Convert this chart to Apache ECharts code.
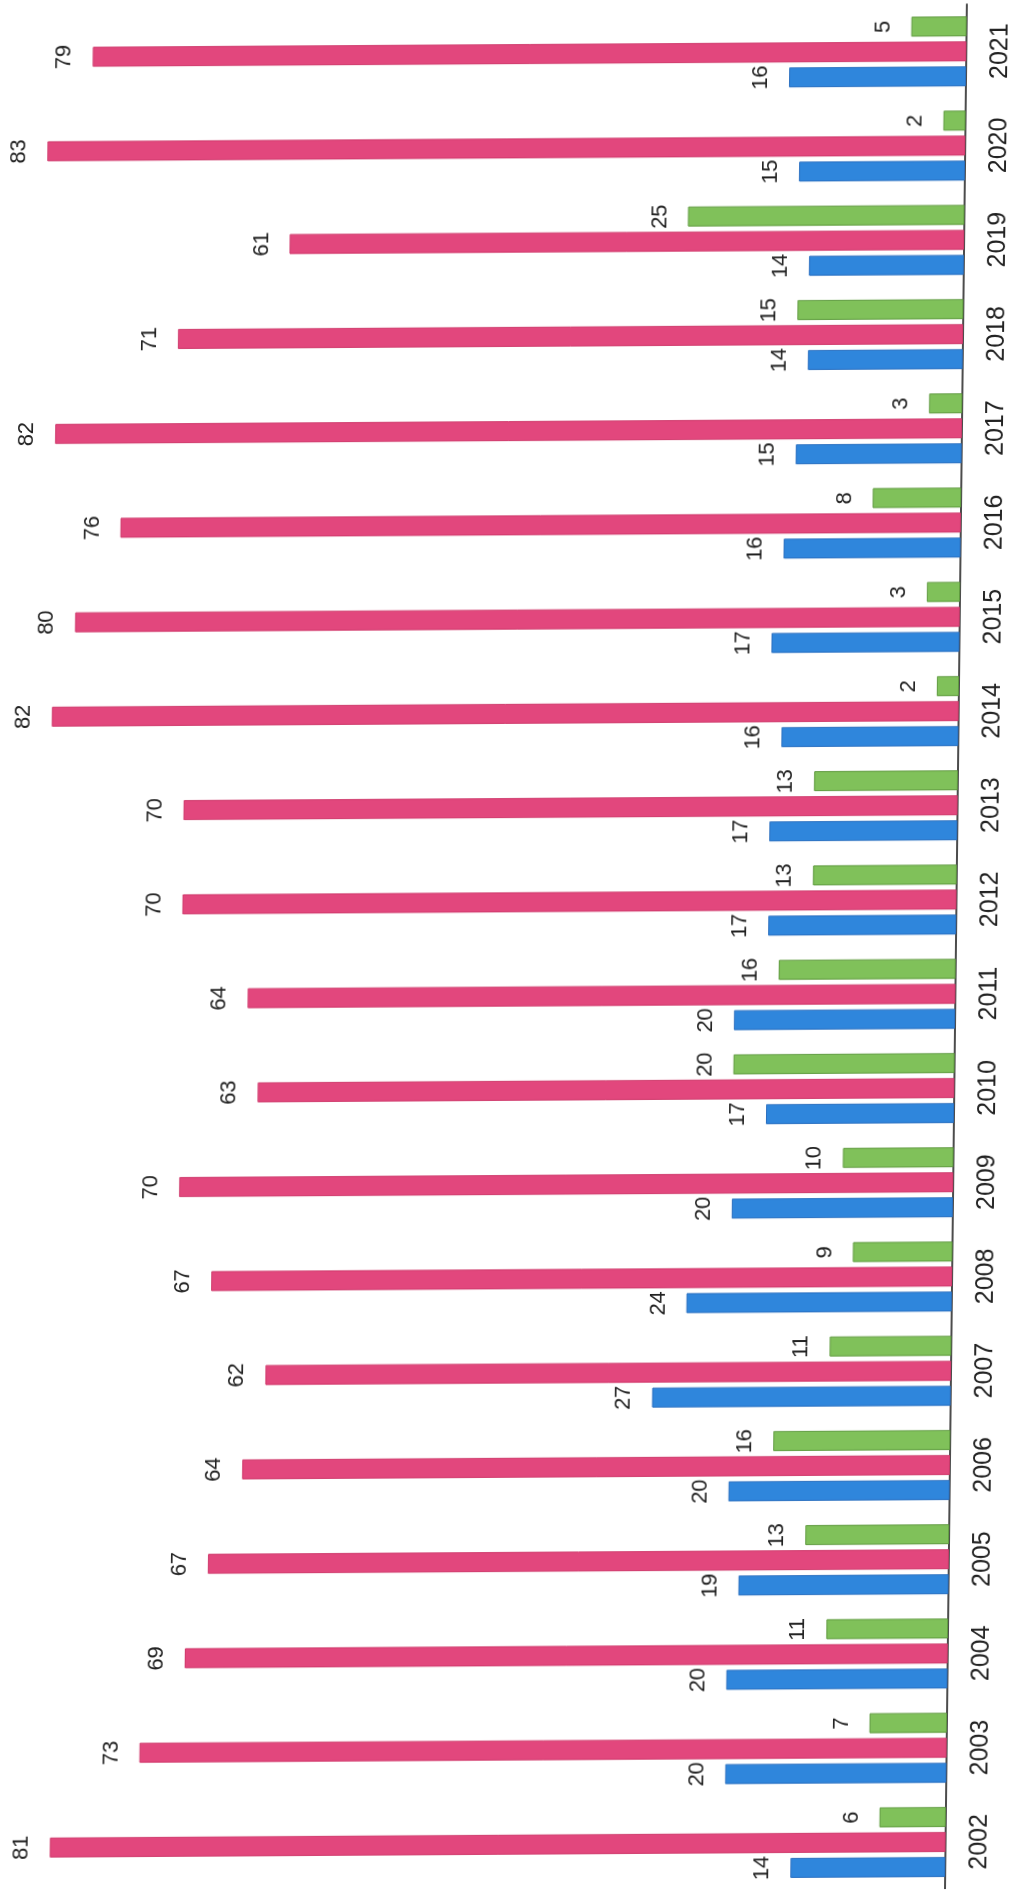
<!DOCTYPE html>
<html>
<head>
<meta charset="utf-8">
<script src="https://cdn.jsdelivr.net/npm/echarts@6/dist/echarts.min.js"></script>
<style>
  html, body { margin: 0; padding: 0; background: #fff; }
  /* the scanned original is slightly sheared, lean the page the same way */
  #chart { width: 1014px; height: 1892px; transform: matrix(1, -0.00625, -0.0116, 1, 0, 0); }
</style>
</head>
<body>
<div id="chart"></div>
<script>
// years run bottom (2002) to top (2021), bars grow to the left
const years = ['2002', '2003', '2004', '2005', '2006', '2007', '2008', '2009', '2010', '2011',
  '2012', '2013', '2014', '2015', '2016', '2017', '2018', '2019', '2020', '2021']
const blueVals = [14, 20, 20, 19, 20, 27, 24, 20, 17, 20, 17, 17, 16, 17, 16, 15, 14, 14, 15, 16]
const pinkVals = [81, 73, 69, 67, 64, 62, 67, 70, 63, 64, 70, 70, 82, 80, 76, 82, 71, 61, 83, 79]
const greenVals = [6, 7, 11, 13, 16, 11, 9, 10, 20, 16, 13, 13, 2, 3, 8, 3, 15, 25, 2, 5]

const chart = echarts.init(document.getElementById('chart'))

function makeSeries(name, data, color, border) {
  return {
    name: name,
    type: 'bar',
    data: data,
    barWidth: 20,
    barGap: '25%',
    itemStyle: { color: color, borderColor: border, borderWidth: 1 },
    label: {
      show: true,
      position: 'left',
      distance: 17,
      rotate: 90,
      align: 'center',
      verticalAlign: 'bottom',
      fontFamily: 'Liberation Sans',
      fontSize: 22,
      color: '#222'
    }
  }
}

// first series sits on top of each group in a horizontal bar chart
chart.setOption({
  animation: false,
  backgroundColor: '#fff',
  grid: { left: 5, right: 58, top: 7, height: 1896 },
  xAxis: {
    type: 'value',
    inverse: true,
    min: 0,
    max: 86,
    show: false
  },
  yAxis: {
    type: 'category',
    position: 'right',
    data: years,
    axisLine: { show: true, lineStyle: { color: '#111', width: 1.5 } },
    axisTick: { show: false },
    axisLabel: {
      rotate: 90,
      margin: 22,
      fontFamily: 'Liberation Sans',
      fontSize: 25,
      color: '#222'
    }
  },
  series: [
    makeSeries('green', greenVals, '#80c15a', '#5e9a3e'),
    makeSeries('pink', pinkVals, '#e2477d', '#cf3a6c'),
    makeSeries('blue', blueVals, '#2f86dc', '#2a6fc0')
  ]
})
</script>
</body>
</html>
